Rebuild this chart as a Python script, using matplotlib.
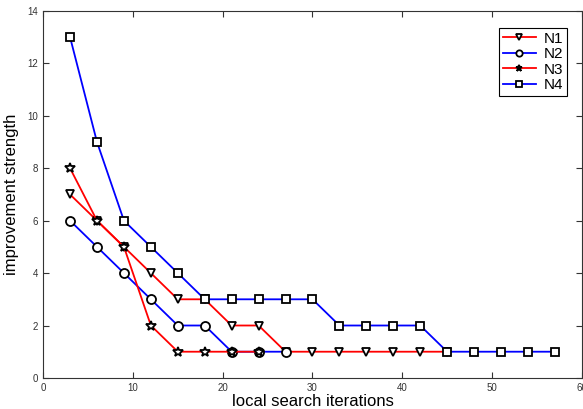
import numpy as np
import matplotlib.pyplot as plt

plt.rcParams['font.family'] = ['Liberation Sans', 'DejaVu Sans']

# data
x_n1 = [3, 6, 9, 12, 15, 18, 21, 24, 27, 30, 33, 36, 39, 42, 45]
y_n1 = [7, 6, 5, 4, 3, 3, 2, 2, 1, 1, 1, 1, 1, 1, 1]

x_n2 = [3, 6, 9, 12, 15, 18, 21, 24, 27]
y_n2 = [6, 5, 4, 3, 2, 2, 1, 1, 1]

x_n3 = [3, 6, 9, 12, 15, 18, 21, 24]
y_n3 = [8, 6, 5, 2, 1, 1, 1, 1]

x_n4 = [3, 6, 9, 12, 15, 18, 21, 24, 27, 30, 33, 36, 39, 42, 45, 48, 51, 54, 57]
y_n4 = [13, 9, 6, 5, 4, 3, 3, 3, 3, 3, 2, 2, 2, 2, 1, 1, 1, 1, 1]

fig = plt.figure(figsize=(5.83, 4.09), dpi=100)
ax = fig.add_axes([0.074, 0.076, 0.924, 0.897])

common = dict(linewidth=1.3, markerfacecolor='white', markeredgecolor='black',
              markeredgewidth=1.3)
ax.plot(x_n1, y_n1, color='red', marker='v', markersize=5.5, label='N1', **common)
ax.plot(x_n2, y_n2, color='blue', marker='o', markersize=6.5, label='N2', **common)
ax.plot(x_n3, y_n3, color='red', marker='*', markersize=7, label='N3', **common)
ax.plot(x_n4, y_n4, color='blue', marker='s', markersize=6, label='N4', **common)

ax.set_xlim(0, 60)
ax.set_ylim(0, 14)
ax.set_xticks(np.arange(0, 61, 10))
ax.set_yticks(np.arange(0, 15, 2))
ax.tick_params(direction='in', top=True, right=True, labelsize=7, length=4,
               colors='#333333')
for s in ax.spines.values():
    s.set_color('#333333')

ax.set_xlabel('local search iterations', fontsize=12, labelpad=1)
ax.set_ylabel('improvement strength', fontsize=12, labelpad=6)

leg = ax.legend(loc='upper right', bbox_to_anchor=(0.987, 0.975), fontsize=11,
                fancybox=False, framealpha=1, edgecolor='black',
                handlelength=2.2, borderpad=0.25, labelspacing=0.1,
                handletextpad=0.5, markerscale=0.7)
leg.get_frame().set_linewidth(0.8)

fig.savefig('out.png', dpi=100)
